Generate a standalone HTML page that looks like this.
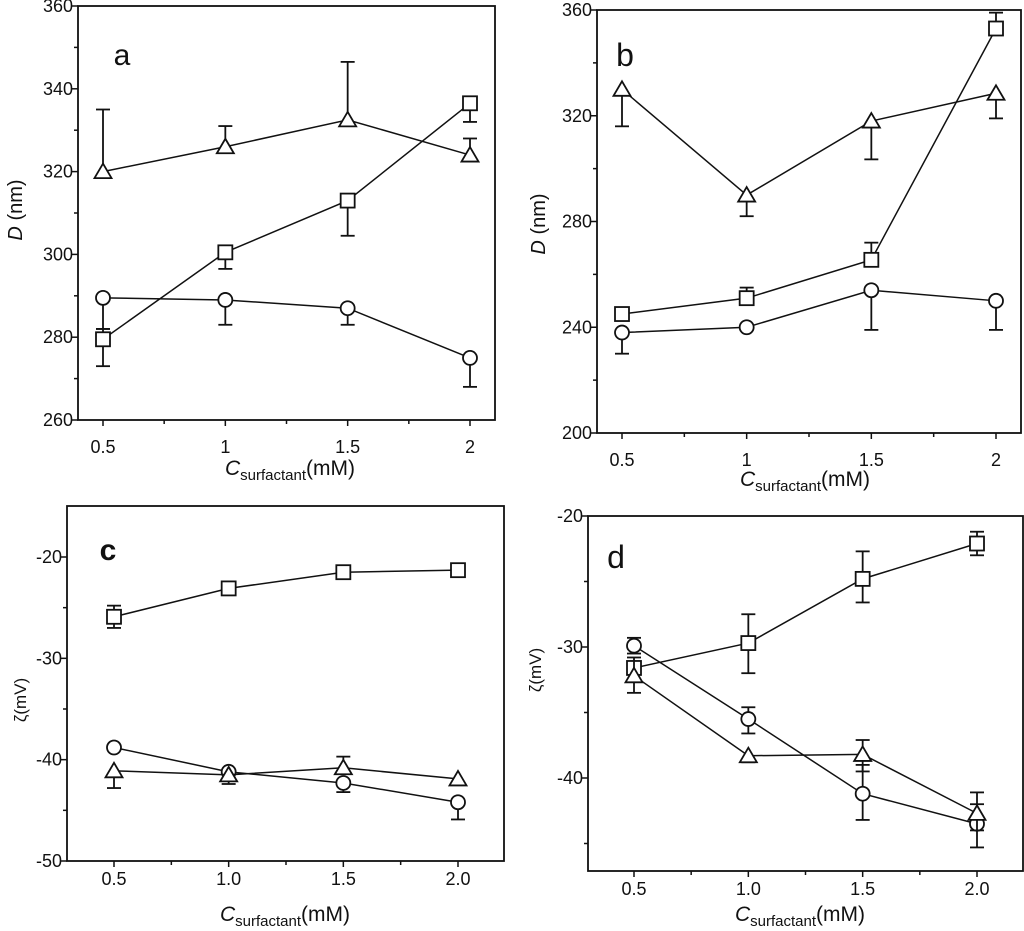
<!DOCTYPE html>
<html><head><meta charset="utf-8"><style>
html,body{margin:0;padding:0;background:#fff;}
svg{display:block;font-family:"Liberation Sans",sans-serif;}
</style></head><body>
<svg id="s" width="1024" height="931" xmlns="http://www.w3.org/2000/svg"></svg>
<script>
const S=document.getElementById('s');
let h='';
function L(x1,y1,x2,y2,w){h+=`<line x1="${x1}" y1="${y1}" x2="${x2}" y2="${y2}" stroke="#111" stroke-width="${w||1.5}"/>`;}
function T(x,y,t,o){o=o||{};h+=`<text x="${x}" y="${y}" font-size="${o.fs||18}" text-anchor="${o.a||'middle'}" ${o.tr?'transform="'+o.tr+'"':''} ${o.b?'font-weight="bold"':''} fill="#111">${t}</text>`;}
function panel(p){
  const X=v=>p.x0+(v-0.5)/1.5*(p.x1-p.x0);
  const Y=v=>p.yA+(v-p.vA)/(p.vB-p.vA)*(p.yB-p.yA);
  h+=`<rect x="${p.L}" y="${p.Tp}" width="${p.R-p.L}" height="${p.B-p.Tp}" fill="none" stroke="#111" stroke-width="1.8"/>`;
  p.yt.forEach(v=>{L(p.L-6,Y(v),p.L,Y(v));T(p.L-5,Y(v)+6,String(v),{a:'end'});});
  p.ymt.forEach(v=>L(p.L-4,Y(v),p.L,Y(v)));
  [0.5,1,1.5,2].forEach((v,i)=>{L(X(v),p.B,X(v),p.B+6);T(X(v),p.B+p.xo,p.xl[i]);});
  [0.75,1.25,1.75].forEach(v=>L(X(v),p.B,X(v),p.B+4));
  p.series.forEach(s=>{
    let pts=s.d.map(d=>[X(d[0]),Y(d[1])]);
    h+=`<polyline points="${pts.map(q=>q.join(',')).join(' ')}" fill="none" stroke="#111" stroke-width="1.5"/>`;
    s.d.forEach(d=>{
      const x=X(d[0]);
      (d[2]||[]).forEach(e=>{L(x,Y(d[1]),x,Y(e),1.8);L(x-7,Y(e),x+7,Y(e),1.8);});
    });
    s.d.forEach(d=>{
      const x=X(d[0]),y=Y(d[1]),r=7;
      if(s.m=='s')h+=`<rect x="${x-r}" y="${y-r}" width="${2*r}" height="${2*r}" fill="#fff" stroke="#111" stroke-width="1.8"/>`;
      else if(s.m=='c')h+=`<circle cx="${x}" cy="${y}" r="${r}" fill="#fff" stroke="#111" stroke-width="1.8"/>`;
      else h+=`<polygon points="${x},${y-8} ${x+8.5},${y+6.5} ${x-8.5},${y+6.5}" fill="#fff" stroke="#111" stroke-width="1.8"/>`;
    });
  });
}
panel({L:78,R:495,Tp:6,B:420,x0:103,x1:470,yA:6,vA:360,yB:420,vB:260,xo:33,
 yt:[360,340,320,300,280,260],ymt:[350,330,310,290,270],xl:['0.5','1','1.5','2'],
 series:[
 {m:'t',d:[[0.5,320,[335]],[1,326,[331]],[1.5,332.5,[346.5]],[2,324,[328]]]},
 {m:'s',d:[[0.5,279.5,[273,282]],[1,300.5,[296.5]],[1.5,313,[304.5]],[2,336.5,[332]]]},
 {m:'c',d:[[0.5,289.5,[282]],[1,289,[283]],[1.5,287,[283]],[2,275,[268]]]}]});
panel({L:597,R:1021,Tp:10,B:433,x0:622,x1:996,yA:10,vA:360,yB:433,vB:200,xo:33,
 yt:[360,320,280,240,200],ymt:[340,300,260,220],xl:['0.5','1','1.5','2'],
 series:[
 {m:'t',d:[[0.5,330,[316]],[1,290,[282]],[1.5,318,[303.5]],[2,328.5,[319]]]},
 {m:'s',d:[[0.5,245],[1,251,[255]],[1.5,265.5,[272]],[2,353,[359]]]},
 {m:'c',d:[[0.5,238,[230]],[1,240],[1.5,254,[239]],[2,250,[239]]]}]});
panel({L:67,R:504,Tp:506,B:861,x0:114,x1:458,yA:861,vA:-50,yB:557,vB:-20,xo:24,
 yt:[-20,-30,-40,-50],ymt:[-25,-35,-45],xl:['0.5','1.0','1.5','2.0'],
 series:[
 {m:'s',d:[[0.5,-25.9,[-24.8,-27]],[1,-23.1],[1.5,-21.5],[2,-21.3]]},
 {m:'c',d:[[0.5,-38.8],[1,-41.2],[1.5,-42.3,[-43.2]],[2,-44.2,[-45.9]]]},
 {m:'t',d:[[0.5,-41.1,[-42.8]],[1,-41.5,[-42.4]],[1.5,-40.8,[-39.7]],[2,-41.9]]}]});
panel({L:588,R:1023,Tp:516,B:871,x0:634,x1:977,yA:516,vA:-20,yB:778,vB:-40,xo:24,
 yt:[-20,-30,-40],ymt:[-25,-35,-45],xl:['0.5','1.0','1.5','2.0'],
 series:[
 {m:'s',d:[[0.5,-31.6],[1,-29.7,[-27.5,-32]],[1.5,-24.8,[-22.7,-26.6]],[2,-22.1,[-21.2,-23]]]},
 {m:'c',d:[[0.5,-29.9,[-29.3,-30.5]],[1,-35.5,[-34.6,-36.6]],[1.5,-41.2,[-39,-43.2]],[2,-43.5,[-42,-45.3]]]},
 {m:'t',d:[[0.5,-32.2,[-33.5,-30.8]],[1,-38.3,[-38.8]],[1.5,-38.2,[-37.1,-39.5]],[2,-42.7,[-41.1,-44]]]}]});
T(122,65,'a',{fs:30});T(625,66,'b',{fs:32});T(108,560,'c',{fs:30,b:1});T(616,568,'d',{fs:32});
const xl='<tspan font-style="italic">C</tspan><tspan font-size="15" dy="5">surfactant</tspan><tspan dy="-5">(mM)</tspan>';
T(290,475,xl,{fs:21});T(805,486,xl,{fs:21});T(285,921,xl,{fs:21});T(800,921,xl,{fs:21});
T(0,0,'<tspan font-style="italic">D</tspan> (nm)',{fs:20,tr:'translate(22,210) rotate(-90)'});
T(0,0,'<tspan font-style="italic">D</tspan> (nm)',{fs:20,tr:'translate(545,224) rotate(-90)'});
T(0,0,'ζ(mV)',{fs:17,tr:'translate(26,700) rotate(-90)'});
T(0,0,'ζ(mV)',{fs:17,tr:'translate(541,670) rotate(-90)'});
S.innerHTML=h;
</script>
</body></html>
